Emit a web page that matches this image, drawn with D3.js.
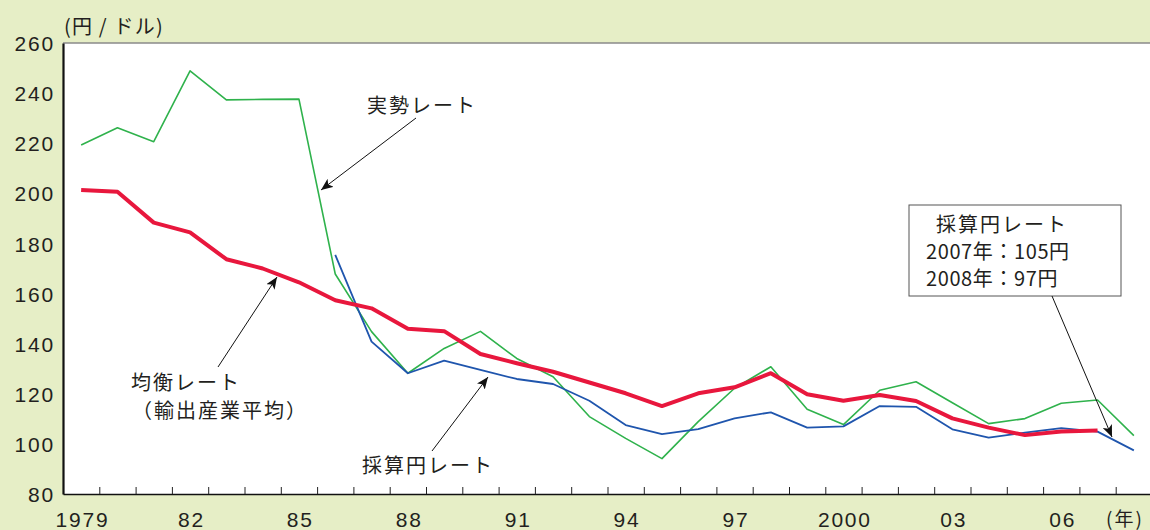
<!DOCTYPE html>
<html>
<head>
<meta charset="utf-8">
<script src="https://cdn.jsdelivr.net/npm/d3@7"></script>
<style>
  html, body { margin: 0; padding: 0; background: #e6eec6; }
  svg { display: block; }
  text { font-family: "Liberation Sans", Arial, "Noto Sans CJK JP", sans-serif; fill: #231f20; }
  .jp { font-family: "Noto Sans CJK JP", "Liberation Sans", sans-serif; }
</style>
</head>
<body>
<svg id="chart" width="1150" height="530"></svg>
<script>
// ---- Data ----
const years = d3.range(1979, 2009);
const actualRate = [219.3, 226.2, 220.6, 248.9, 237.3, 237.5, 237.6, 167.8, 144.8, 128.2,
                    138.1, 144.9, 134.1, 126.8, 110.9, 102.2, 94.1, 108.9, 122.2, 130.8,
                    113.8, 107.7, 121.4, 124.8, 116.4, 108.1, 110.1, 116.2, 117.5, 103.3];
const equilibriumYears = d3.range(1979, 2008);
const equilibriumRate = [201.3, 200.6, 188.3, 184.4, 173.7, 170.0, 164.5, 157.3, 154.1, 146.0,
                         145.0, 135.9, 132.2, 128.8, 124.5, 120.2, 115.1, 120.2, 122.6, 128.2,
                         119.8, 117.2, 119.5, 117.1, 110.2, 106.5, 103.5, 104.9, 105.3];
const breakevenYears = d3.range(1986, 2009);
const breakevenRate = [175.4, 140.8, 128.2, 133.2, 129.5, 125.9, 123.9, 117.2, 107.5, 103.9,
                       105.9, 110.2, 112.6, 106.5, 107.0, 115.1, 114.8, 105.8, 102.5, 104.5,
                       106.3, 104.9, 97.4];
const yTicks = [80, 100, 120, 140, 160, 180, 200, 220, 240, 260];
const xLabelYears = [1979, 1982, 1985, 1988, 1991, 1994, 1997, 2000, 2003, 2006];
const xLabels = ["1979", "82", "85", "88", "91", "94", "97", "2000", "03", "06"];
const yUnit = "(円 / ドル)";
const xUnit = "(年)";
const labelActual = "実勢レート";
const labelEquilibrium = ["均衡レート", "（輸出産業平均）"];
const labelBreakeven = "採算円レート";
const boxLines = ["採算円レート", "2007年：105円", "2008年：97円"];

// ---- Layout ----
const svg = d3.select("#chart");
const plot = { left: 63, right: 1152, top: 43, bottom: 494 };

const x = d3.scaleLinear().domain([1978.5, 2008.5]).range([plot.left, plot.right]);
const y = d3.scaleLinear().domain([80, 260]).range([plot.bottom, plot.top]);

// defs: arrow marker
const defs = svg.append("defs");
defs.append("marker")
  .attr("id", "arrow")
  .attr("viewBox", "0 0 12 10")
  .attr("refX", 12).attr("refY", 5)
  .attr("markerWidth", 12).attr("markerHeight", 10)
  .attr("markerUnits", "userSpaceOnUse")
  .attr("orient", "auto")
  .append("path").attr("d", "M0,0 L12,5 L0,10 L3,5 Z").attr("fill", "#111");

// plot background
svg.append("rect")
  .attr("x", plot.left).attr("y", plot.top)
  .attr("width", plot.right - plot.left).attr("height", plot.bottom - plot.top)
  .attr("fill", "#ffffff");

// top border
svg.append("line")
  .attr("x1", plot.left).attr("x2", plot.right)
  .attr("y1", plot.top).attr("y2", plot.top)
  .attr("stroke", "#8a8a8a").attr("stroke-width", 1.5);

// lines
const line = d3.line().x(d => x(d[0])).y(d => y(d[1]));

svg.append("path")
  .datum(years.map((yr, i) => [yr, actualRate[i]]))
  .attr("d", line).attr("fill", "none")
  .attr("stroke", "#2fb24c").attr("stroke-width", 1.6).attr("stroke-linejoin", "round");

svg.append("path")
  .datum(breakevenYears.map((yr, i) => [yr, breakevenRate[i]]))
  .attr("d", line).attr("fill", "none")
  .attr("stroke", "#1f55ad").attr("stroke-width", 1.8).attr("stroke-linejoin", "round");

svg.append("path")
  .datum(equilibriumYears.map((yr, i) => [yr, equilibriumRate[i]]))
  .attr("d", line).attr("fill", "none")
  .attr("stroke", "#e8173d").attr("stroke-width", 4).attr("stroke-linejoin", "round");

// x axis: inward ticks at year boundaries
const xTickAxis = d3.axisBottom(x)
  .tickValues(d3.range(1979.5, 2008, 1))
  .tickSize(-7).tickSizeOuter(0).tickFormat("");
const gxt = svg.append("g").attr("transform", `translate(0,${plot.bottom})`).call(xTickAxis);
gxt.select(".domain").attr("stroke", "#111").attr("stroke-width", 1.6);
gxt.selectAll(".tick line").attr("stroke", "#222").attr("stroke-width", 1);

// x labels
const xLabelAxis = d3.axisBottom(x)
  .tickValues(xLabelYears)
  .tickFormat((d, i) => xLabels[i])
  .tickSize(0).tickSizeOuter(0);
const gxl = svg.append("g").attr("transform", `translate(0,${plot.bottom})`).call(xLabelAxis);
gxl.select(".domain").remove();
gxl.selectAll("text")
  .attr("y", 33).attr("dy", 0)
  .attr("font-size", 21).attr("letter-spacing", "1.8px")
  .attr("dx", "0.9px")
  .style("fill", "#231f20");

// y axis
const yAxis = d3.axisLeft(y).tickValues(yTicks).tickSize(0).tickSizeOuter(0).tickPadding(8);
const gy = svg.append("g").attr("transform", `translate(${plot.left},0)`).call(yAxis);
gy.select(".domain").attr("stroke", "#111").attr("stroke-width", 2.2);
gy.selectAll("text")
  .attr("font-size", 21).attr("letter-spacing", "1.8px")
  .attr("dy", "0.36em")
  .style("fill", "#231f20");

// unit labels
svg.append("text").attr("class", "jp")
  .attr("x", 64).attr("y", 34).attr("font-size", 20).attr("letter-spacing", "1.2px")
  .text(yUnit);
svg.append("text").attr("class", "jp")
  .attr("x", 1106).attr("y", 526).attr("font-size", 19).attr("letter-spacing", "2px")
  .text(xUnit);

// annotations
function arrow(x1, y1, x2, y2) {
  svg.append("line")
    .attr("x1", x1).attr("y1", y1).attr("x2", x2).attr("y2", y2)
    .attr("stroke", "#111").attr("stroke-width", 1)
    .attr("marker-end", "url(#arrow)");
}
function label(txt, lx, ly, size) {
  svg.append("text").attr("class", "jp")
    .attr("x", lx).attr("y", ly)
    .attr("font-size", size || 20).attr("letter-spacing", "2px")
    .text(txt);
}

label(labelActual, 367, 113);
arrow(416, 118, 321, 190);

label(labelEquilibrium[0], 131, 390);
label(labelEquilibrium[1], 132, 418);
arrow(218, 367, 277, 277);

label(labelBreakeven, 362, 473);
arrow(432, 451, 488, 377);

svg.append("rect")
  .attr("x", 909).attr("y", 205).attr("width", 212).attr("height", 91)
  .attr("fill", "#ffffff").attr("stroke", "#555").attr("stroke-width", 1);
label(boxLines[0], 936, 232);
svg.append("text").attr("class", "jp").attr("x", 926).attr("y", 259).attr("font-size", 20).attr("letter-spacing", "0.6px").text(boxLines[1]);
svg.append("text").attr("class", "jp").attr("x", 926).attr("y", 286).attr("font-size", 20).attr("letter-spacing", "0.6px").text(boxLines[2]);
arrow(1052, 296, 1112, 437);
</script>
</body>
</html>
